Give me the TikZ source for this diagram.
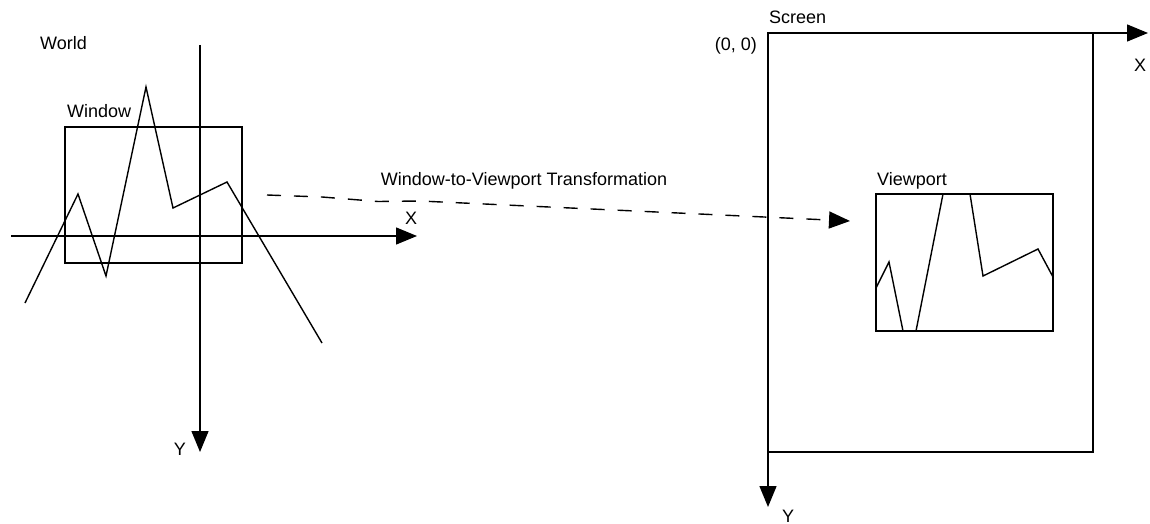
\documentclass[tikz,border=0pt]{standalone}
\usepackage{fontspec}
\setmainfont{Liberation Sans}
\usetikzlibrary{arrows.meta}
\tikzset{
  line/.style={line width=1.4pt, line join=miter},
  axis/.style={line, -{Triangle[length=21pt,width=17pt]}},
  label/.style={inner sep=0pt, font=\fontsize{18pt}{22pt}\selectfont},
  transfer/.style={line, dash pattern=on 14pt off 13pt, -{Triangle[length=21pt,width=17pt]}},
}
\begin{document}
\begin{tikzpicture}[x=1pt, y=-1pt]
\useasboundingbox (0,0) rectangle (1150,524);

% ---- world coordinates ----
\node[label, anchor=base west] (world) at (40,49.5) {World};
\coordinate (wxs) at (11,236);
\coordinate (wxe) at (417,236);
\coordinate (wys) at (200,45);
\coordinate (wye) at (200,452);
\draw[axis] (wxs) -- (wxe);
\draw[axis] (wys) -- (wye);
\node[label, anchor=base] (wx) at (411,224.5) {X};
\node[label, anchor=base] (wy) at (180,455) {Y};

% window rectangle
\coordinate (win1) at (65,127);
\coordinate (win2) at (242,263);
\draw[line] (win1) rectangle (win2);
\node[label, anchor=base west] (winlabel) at (67,117.5) {Window};

% world polyline
\draw[line] (25,303) -- (78,194) -- (106,276) -- (146,87) -- (173,208)
  -- (227,182) -- (322,343);

% ---- screen ----
\coordinate (origin) at (768,33);
\coordinate (sxe) at (1148,33);
\coordinate (sye) at (768,507);
\coordinate (scr2) at (1093,452);
\draw[line] (origin) rectangle (scr2);
\draw[axis] (origin) -- (sxe);
\draw[axis] (origin) -- (sye);
\node[label, anchor=base west] (screen) at (769,23.5) {Screen};
\node[label, anchor=base east] (orig) at (757,50.5) {(0, 0)};
\node[label, anchor=base] (sx) at (1140,71.5) {X};
\node[label, anchor=base] (sy) at (788,522.5) {Y};

% viewport rectangle
\coordinate (vp1) at (876,194);
\coordinate (vp2) at (1053,331);
\draw[line] (vp1) rectangle (vp2);
\node[label, anchor=base west] (vplabel) at (877,185.5) {Viewport};

% clipped polyline inside the viewport
\draw[line] (876,288) -- (889,262) -- (903,331);
\draw[line] (916,331) -- (943,194);
\draw[line] (970,194) -- (983,276) -- (1038,249) -- (1053,277);

% ---- transformation ----
\coordinate (ts) at (267,195);
\coordinate (te) at (850,221);
\draw[transfer] (ts) -- (322,197) -- (378,201.5) -- (420,201) -- (te);
\node[label, anchor=base] (tlabel) at (524,185.5) {Window-to-Viewport Transformation};
\end{tikzpicture}
\end{document}
